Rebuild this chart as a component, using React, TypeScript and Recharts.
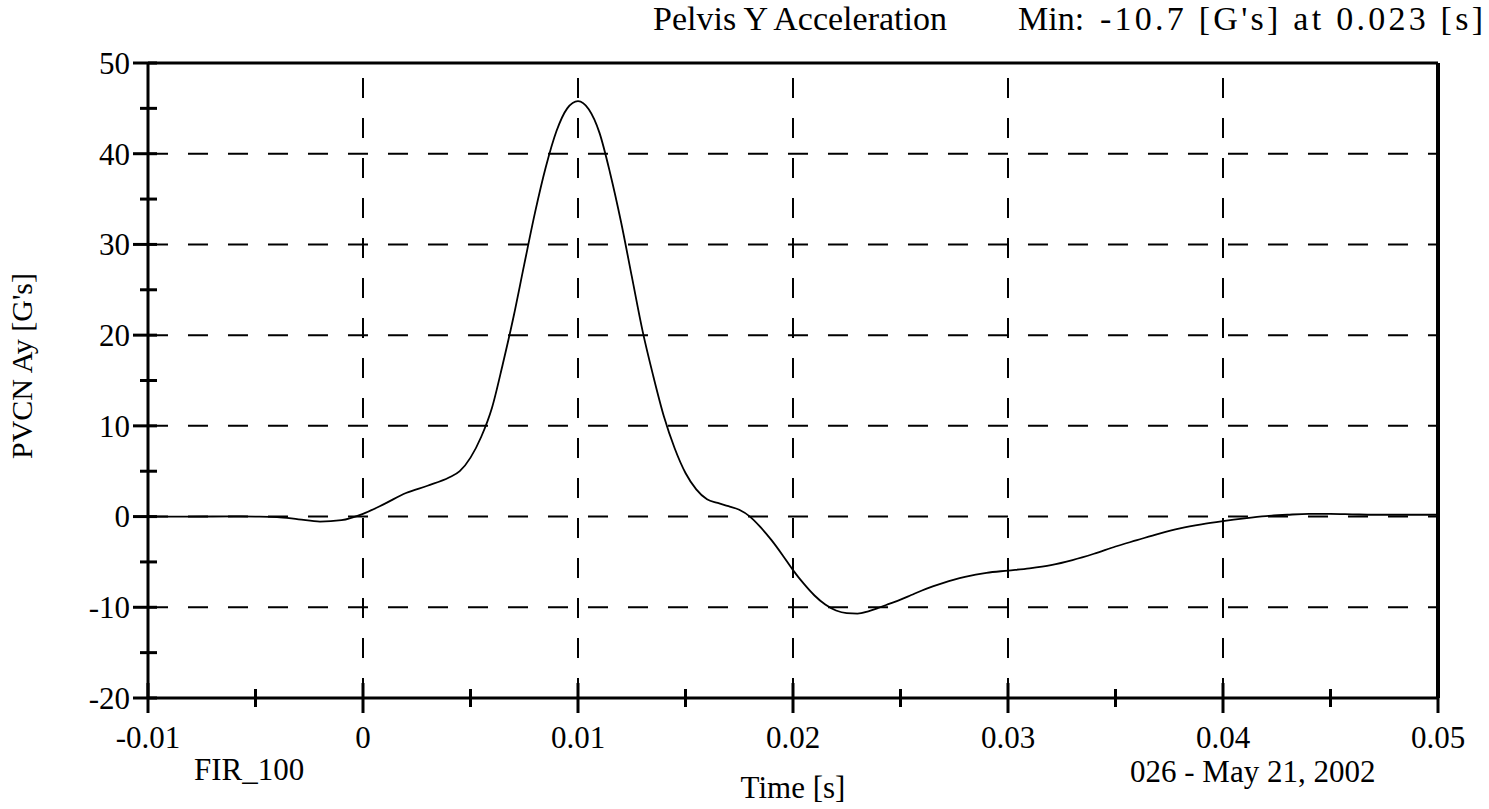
import React from "react";
import { LineChart, Line, XAxis, YAxis, ReferenceLine } from "recharts";

const times = [
  -0.01, -0.008, -0.006, -0.005, -0.004, -0.003, -0.002, -0.001, 0, 0.001, 0.002, 0.003, 0.004, 0.0045,
  0.005, 0.0055, 0.006, 0.0065, 0.007, 0.0075, 0.008, 0.0085, 0.009, 0.0095, 0.01, 0.0105, 0.011, 0.0115,
  0.012, 0.0125, 0.013, 0.0135, 0.014, 0.0145, 0.015, 0.0155, 0.016, 0.0165, 0.017, 0.0175, 0.018, 0.0185,
  0.019, 0.0195, 0.02, 0.0205, 0.021, 0.0215, 0.022, 0.0225, 0.023, 0.0235, 0.024, 0.0245, 0.025, 0.0255,
  0.026, 0.0265, 0.027, 0.0275, 0.028, 0.029, 0.03, 0.031, 0.032, 0.033, 0.034, 0.035, 0.036, 0.037, 0.038,
  0.039, 0.04, 0.041, 0.042, 0.043, 0.044, 0.045, 0.046, 0.047, 0.048, 0.049, 0.05,
];

const accel = [
  0, 0, 0.02, 0, -0.05, -0.3, -0.55, -0.4, 0.3, 1.4, 2.6, 3.4, 4.3, 5.0,
  6.5, 8.8, 12.0, 16.8, 22.0, 27.8, 33.5, 38.5, 42.5, 45.0, 45.8, 44.9, 42.3, 37.8,
  32.5, 26.5, 20.5, 15.5, 11.0, 7.5, 4.8, 3.0, 1.9, 1.5, 1.15, 0.75, 0.0, -1.2,
  -2.6, -4.2, -5.9, -7.4, -8.7, -9.7, -10.35, -10.65, -10.7, -10.45, -10.05, -9.6, -9.15, -8.65,
  -8.15, -7.7, -7.3, -6.95, -6.65, -6.2, -5.95, -5.7, -5.35, -4.8, -4.1, -3.3, -2.6, -1.9, -1.3,
  -0.85, -0.5, -0.2, 0.05, 0.2, 0.3, 0.3, 0.25, 0.2, 0.2, 0.2, 0.2,
];

const xTicks = [-0.01, -0.005, 0, 0.005, 0.01, 0.015, 0.02, 0.025, 0.03, 0.035, 0.04, 0.045, 0.05];
const yTicks = [-20, -15, -10, -5, 0, 5, 10, 15, 20, 25, 30, 35, 40, 45, 50];
const xGrid = [0, 0.01, 0.02, 0.03, 0.04];
const yGrid = [-10, 0, 10, 20, 30, 40];

const data = times.map((t, i) => ({ t, v: accel[i] }));

const FONT = "'Liberation Serif', 'Times New Roman', serif";
const textStyle: React.CSSProperties = { fontFamily: FONT, fill: "#000" };

const isMajorX = (v: number) => Math.abs(v * 100 - Math.round(v * 100)) < 1e-6;
const isMajorY = (v: number) => Math.abs(v / 10 - Math.round(v / 10)) < 1e-6;

const fmtX = (v: number) => {
  const r = Math.round(v * 100) / 100;
  if (r === 0) return "0";
  return String(r);
};

const XTick = (props: any) => {
  const { x, y, payload } = props;
  const major = isMajorX(payload.value);
  const half = major ? 15 : 9;
  return (
    <g>
      <line x1={x} x2={x} y1={y - half} y2={y + half} stroke="#000" strokeWidth={3} />
      {major && (
        <text x={x} y={y + 50} textAnchor="middle" fontFamily={FONT} fontSize={31} fill="#000" style={{ ...textStyle, fontSize: 31 }}>
          {fmtX(payload.value)}
        </text>
      )}
    </g>
  );
};

const YTick = (props: any) => {
  const { x, y, payload } = props;
  const major = isMajorY(payload.value);
  const left = major ? 15 : 8;
  const right = 9;
  return (
    <g>
      <line x1={x - left} x2={x + right} y1={y} y2={y} stroke="#000" strokeWidth={3} />
      {major && (
        <text x={x - 18} y={y} dy="0.35em" textAnchor="end" fontFamily={FONT} fontSize={31} fill="#000" style={{ ...textStyle, fontSize: 31 }}>
          {payload.value}
        </text>
      )}
    </g>
  );
};

export default function App() {
  return (
    <div style={{ position: "absolute", left: 0, top: 0, width: 1489, height: 809, background: "#fff" }}>
      <LineChart
        width={1489}
        height={809}
        data={data}
        margin={{ top: 63, right: 51, bottom: 0, left: 0 }}
      >
        <XAxis
          dataKey="t"
          type="number"
          domain={[-0.01, 0.05]}
          ticks={xTicks}
          interval={0}
          height={111}
          tickSize={0}
          tickMargin={0}
          tickLine={false}
          axisLine={{ stroke: "#000", strokeWidth: 3 }}
          tick={<XTick />}
          allowDataOverflow
        />
        <YAxis
          type="number"
          domain={[-20, 50]}
          ticks={yTicks}
          interval={0}
          width={148}
          tickSize={0}
          tickMargin={0}
          tickLine={false}
          axisLine={{ stroke: "#000", strokeWidth: 3 }}
          tick={<YTick />}
          allowDataOverflow
        />
        {xGrid.map((g) => (
          <ReferenceLine key={"x" + g} x={g} stroke="#000" strokeWidth={2} strokeDasharray="20 20" />
        ))}
        {yGrid.map((g) => (
          <ReferenceLine key={"y" + g} y={g} stroke="#000" strokeWidth={2} strokeDasharray="20 20" />
        ))}
        <ReferenceLine y={50} stroke="#000" strokeWidth={3} />
        <ReferenceLine x={0.05} stroke="#000" strokeWidth={4} />
        <Line
          type="monotone"
          dataKey="v"
          stroke="#000"
          strokeWidth={1.8}
          dot={false}
          isAnimationActive={false}
        />
      </LineChart>
      <svg
        width={1489}
        height={809}
        style={{ position: "absolute", left: 0, top: 0, pointerEvents: "none" }}
      >
        <g style={textStyle}>
          <text x={800} y={30} style={{ fontSize: 34 }} textAnchor="middle">Pelvis Y Acceleration</text>
          <text x={1018} y={30} style={{ fontSize: 34 }}>Min:</text>
          <text
            x={1100}
            y={30}
            style={{ fontSize: 34 }}
            textLength={383}
            lengthAdjust="spacing"
          >
            -10.7 [G's] at 0.023 [s]
          </text>
          <text x={194} y={780} style={{ fontSize: 31 }}>FIR_100</text>
          <text x={793} y={798} style={{ fontSize: 31 }} textAnchor="middle">Time [s]</text>
          <text x={1130} y={782} style={{ fontSize: 31 }}>026 - May 21, 2002</text>
          <text
            x={32}
            y={366}
            style={{ fontSize: 30 }}
            textAnchor="middle"
            transform="rotate(-90 32 366)"
          >
            PVCN Ay [G's]
          </text>
        </g>
      </svg>
    </div>
  );
}
